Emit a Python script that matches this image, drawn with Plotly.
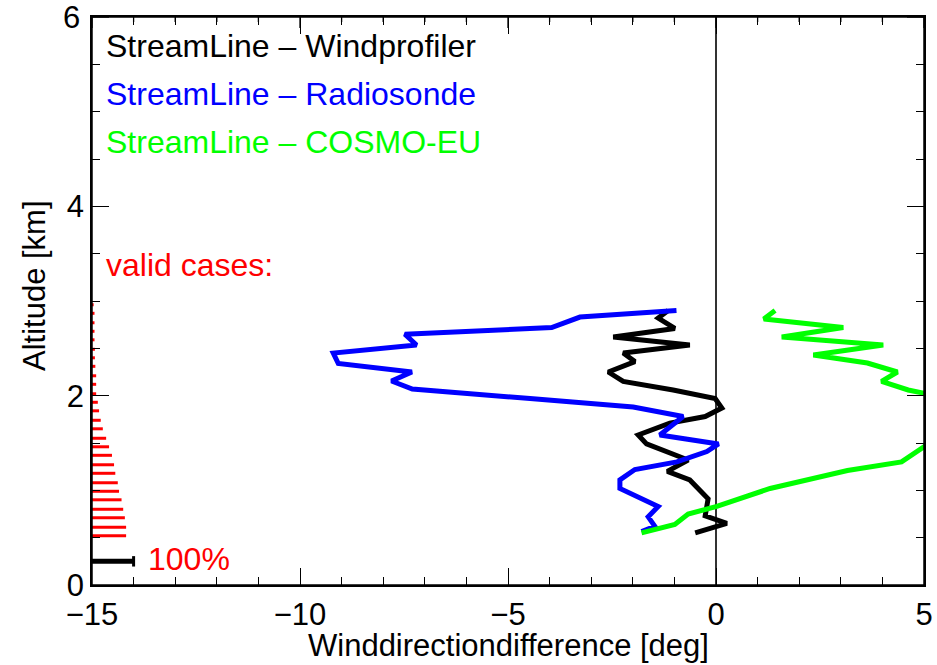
import plotly.graph_objects as go

# ---------------- data ----------------
# StreamLine - Windprofiler (black)
wp_diff = [-1.15, -1.39, -0.99, -2.47, -0.63, -2.23, -1.95, -2.59, -2.23, -1.03, -0.02, 0.14,
           -0.26, -1.11, -1.87, -1.67, -0.67, -1.17, -0.63, -0.35, -0.19, -0.26, 0.26, -0.50]
wp_alt = [2.90, 2.82, 2.71, 2.62, 2.535, 2.45, 2.36, 2.25, 2.15, 2.06, 1.97, 1.87,
          1.78, 1.71, 1.585, 1.49, 1.32, 1.20, 1.11, 0.99, 0.91, 0.73, 0.65, 0.55]

# StreamLine - Radiosonde (blue)
rs_diff = [-0.95, -3.27, -3.95, -7.48, -7.20, -9.20, -9.08, -7.31, -7.80, -7.30, -4.47, -1.99,
           -0.79, -1.35, 0.06, -0.22, -0.94, -1.95, -2.31, -2.31, -1.39, -1.63, -1.47, -1.79]
rs_alt = [2.90, 2.83, 2.72, 2.65, 2.535, 2.45, 2.34, 2.25, 2.155, 2.07, 1.97, 1.88,
          1.78, 1.585, 1.49, 1.41, 1.30, 1.22, 1.11, 1.02, 0.83, 0.72, 0.62, 0.565]

# StreamLine - COSMO-EU (green)
cm_diff = [1.42, 1.15, 3.06, 1.58, 4.02, 2.34, 3.64, 4.36, 3.98, 4.62, 5.6, 6.3, 6.0, 5.3,
           4.46, 3.16, 1.30, 0.02, -0.67, -0.99, -1.79]
cm_alt = [2.90, 2.81, 2.72, 2.62, 2.535, 2.43, 2.345, 2.25, 2.15, 2.06, 1.97, 1.80, 1.62, 1.55,
          1.30, 1.21, 1.02, 0.83, 0.75, 0.64, 0.55]

# valid cases (percent) per range gate
gate_alt = [0.52, 0.61, 0.71, 0.80, 0.90, 0.99, 1.08, 1.18, 1.27, 1.37, 1.46, 1.55, 1.65, 1.74,
            1.84, 1.93, 2.02, 2.12, 2.21, 2.31, 2.40, 2.49, 2.59, 2.68, 2.77, 2.87, 2.96]
valid_pct = [82, 82, 79, 75, 71, 65, 62, 56, 53, 48, 41, 34, 26, 21,
             17, 14, 10, 10, 10, 8, 7, 7, 6, 6, 6, 6, 4]
ref_pct = 100          # reference bar
ref_alt = 0.25
pct_scale = 1.0        # degrees on the x axis that correspond to 100 %

x_range = [-15, 5]
y_range = [0, 6]
x_ticks = [-15, -10, -5, 0, 5]
x_minor_step = 1
y_ticks = [0, 2, 4, 6]
y_minor_step = 0.5

FONT = "Liberation Sans, Arial, Helvetica, sans-serif"
W, H = 937, 665
ML, MR, MT, MB = 92, 13, 17, 80
pw, ph = W - ML - MR, H - MT - MB

fig = go.Figure()

# valid-case bars
bx, by = [], []
for a, p in zip(gate_alt, valid_pct):
    bx += [x_range[0], x_range[0] + p / 100 * pct_scale, None]
    by += [a, a, None]
fig.add_trace(go.Scatter(x=bx, y=by, mode="lines", line=dict(color="#ff0000", width=3),
                         hoverinfo="skip"))

# 100 % reference bar with end cap
ref_end = x_range[0] + ref_pct / 100 * pct_scale
fig.add_trace(go.Scatter(x=[x_range[0], ref_end], y=[ref_alt, ref_alt], mode="lines",
                         line=dict(color="black", width=5), hoverinfo="skip"))
fig.add_trace(go.Scatter(x=[ref_end, ref_end], y=[ref_alt - 0.055, ref_alt + 0.055], mode="lines",
                         line=dict(color="black", width=3), hoverinfo="skip"))

# profiles
fig.add_trace(go.Scatter(x=wp_diff, y=wp_alt, mode="lines", line=dict(color="black", width=5)))
fig.add_trace(go.Scatter(x=rs_diff, y=rs_alt, mode="lines", line=dict(color="#0000ff", width=5)))
fig.add_trace(go.Scatter(x=cm_diff, y=cm_alt, mode="lines", line=dict(color="#00ff00", width=5)))

# text labels
labels = [
    ("StreamLine \u2013 Windprofiler", "black", 5.69),
    ("StreamLine \u2013 Radiosonde", "#0000ff", 5.19),
    ("StreamLine \u2013 COSMO-EU", "#00ff00", 4.68),
    ("valid cases:", "#ff0000", 3.38),
]
for txt, col, yy in labels:
    fig.add_annotation(x=-14.70, y=yy, xref="x", yref="y", text=txt, showarrow=False,
                       xanchor="left", yanchor="middle",
                       font=dict(family=FONT, size=32, color=col))
fig.add_annotation(x=ref_end, y=ref_alt + 0.02, xref="x", yref="y", text="100%",
                   showarrow=False, xanchor="left", yanchor="middle", xshift=12,
                   font=dict(family=FONT, size=32, color="#ff0000"))

# axis titles (placed explicitly)
fig.add_annotation(x=0.5, y=(-(645 - (H - MB)) / ph), xref="paper", yref="paper",
                   text="Winddirectiondifference [deg]", showarrow=False,
                   xanchor="center", yanchor="middle",
                   font=dict(family=FONT, size=31, color="black"))
fig.add_annotation(x=(-(ML - 34) / pw), y=((H - MB) - 286) / ph, xref="paper", yref="paper",
                   text="Altitude [km]", showarrow=False, textangle=-90,
                   xanchor="center", yanchor="middle",
                   font=dict(family=FONT, size=31, color="black"))

# top-of-range y tick label (drawn explicitly)
fig.add_annotation(x=0, y=y_ticks[-1], xref="paper", yref="y", text=str(y_ticks[-1]),
                   showarrow=False, xanchor="right", yanchor="middle", xshift=-10,
                   font=dict(family=FONT, size=31, color="black"))

# plot frame
fig.add_shape(type="rect", xref="paper", yref="paper", x0=0, x1=1, y0=0, y1=1,
              line=dict(color="black", width=1.5), layer="above")

# top-edge ticks (inside), generated from the x tick definitions
n_minor = int(round((x_range[1] - x_range[0]) / x_minor_step))
for i in range(n_minor + 1):
    xv = x_range[0] + i * x_minor_step
    ln = 11 if xv in x_ticks else 5
    fig.add_shape(type="line", xref="x", yref="paper", x0=xv, x1=xv, y0=1, y1=1 - ln / ph,
                  line=dict(color="black", width=1.3), layer="above")
# ticks at the top of the y range on both sides
for xa, xb in [(0, 17 / pw), (1, 1 - 17 / pw)]:
    fig.add_shape(type="line", xref="paper", yref="y", x0=xa, x1=xb,
                  y0=y_range[1], y1=y_range[1], line=dict(color="black", width=1.3),
                  layer="above")

tick_common = dict(ticks="inside", ticklen=17, tickwidth=1.3, tickcolor="black",
                   showgrid=False, showline=True, linecolor="black", linewidth=1.5,
                   mirror="allticks")
x_minor = dict(dtick=x_minor_step, tick0=x_range[0], ticks="inside", ticklen=8, tickwidth=1.2,
               tickcolor="black", showgrid=False)
y_minor = dict(dtick=y_minor_step, tick0=y_range[0], ticks="inside", ticklen=8, tickwidth=1.2,
               tickcolor="black", showgrid=False)

fig.update_layout(
    xaxis=dict(range=x_range, tickvals=x_ticks, zeroline=True, zerolinecolor="#333333",
               zerolinewidth=1.5, minor=x_minor, ticklabelstandoff=1,
               tickfont=dict(family=FONT, size=31, color="black"), **tick_common),
    yaxis=dict(range=y_range, tickvals=y_ticks, zeroline=False, minor=y_minor,
               tickfont=dict(family=FONT, size=31, color="black"), **tick_common),
)

fig.update_layout(width=W, height=H, margin=dict(l=ML, r=MR, t=MT, b=MB, autoexpand=False),
                  plot_bgcolor="white", paper_bgcolor="white", showlegend=False,
                  font=dict(family=FONT, size=30, color="black"))

fig.write_html("out.html", config={"displayModeBar": False},
               post_script="document.body.style.margin='0';document.body.style.padding='0';"
                           "document.body.style.overflow='hidden';"
                           "document.documentElement.style.overflow='hidden';")
